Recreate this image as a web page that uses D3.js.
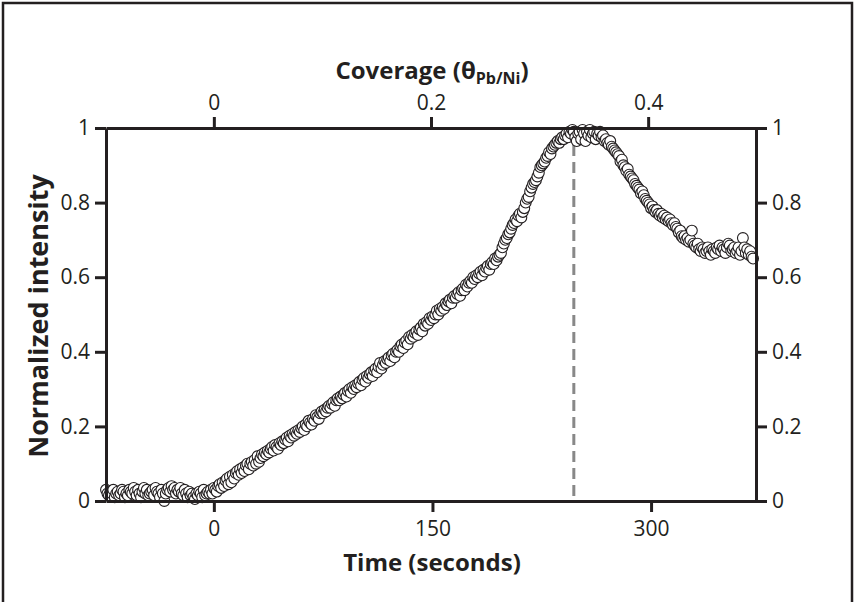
<!DOCTYPE html>
<html>
<head>
<meta charset="utf-8">
<script src="https://d3js.org/d3.v7.min.js"></script>
<style>
  body { margin: 0; background: #fff; }
  text { font-family: "Open Sans", "Noto Sans", sans-serif; fill: #231f20; }
</style>
</head>
<body>
<svg id="chart" width="855" height="602"></svg>
<script>
// time (s) and normalized intensity
const times = [
  -74,-73,-72,-71,-70,-69,-68,-67,-66,-65,
  -64,-63,-62,-61,-60,-59,-58,-57,-56,-55,
  -54,-53,-52,-51,-50,-49,-48,-47,-46,-45,
  -44,-43,-42,-41,-40,-39,-38,-37,-36,-35,
  -34,-33,-32,-31,-30,-29,-28,-27,-26,-25,
  -24,-23,-22,-21,-20,-19,-18,-17,-16,-15,
  -14,-13,-12,-11,-10,-9,-8,-7,-6,-5,
  -4,-3,-2,-1,0,1,2,3,4,5,
  6,7,8,9,10,11,12,13,14,15,
  16,17,18,19,20,21,22,23,24,25,
  26,27,28,29,30,31,32,33,34,35,
  36,37,38,39,40,41,42,43,44,45,
  46,47,48,49,50,51,52,53,54,55,
  56,57,58,59,60,61,62,63,64,65,
  66,67,68,69,70,71,72,73,74,75,
  76,77,78,79,80,81,82,83,84,85,
  86,87,88,89,90,91,92,93,94,95,
  96,97,98,99,100,101,102,103,104,105,
  106,107,108,109,110,111,112,113,114,115,
  116,117,118,119,120,121,122,123,124,125,
  126,127,128,129,130,131,132,133,134,135,
  136,137,138,139,140,141,142,143,144,145,
  146,147,148,149,150,151,152,153,154,155,
  156,157,158,159,160,161,162,163,164,165,
  166,167,168,169,170,171,172,173,174,175,
  176,177,178,179,180,181,182,183,184,185,
  186,187,188,189,190,191,192,193,194,195,
  196,197,198,199,200,201,202,203,204,205,
  206,207,208,209,210,211,212,213,214,215,
  216,217,218,219,220,221,222,223,224,225,
  226,227,228,229,230,231,232,233,234,235,
  236,237,238,239,240,241,242,243,244,245,
  246,247,248,249,250,251,252,253,254,255,
  256,257,258,259,260,261,262,263,264,265,
  266,267,268,269,270,271,272,273,274,275,
  276,277,278,279,280,281,282,283,284,285,
  286,287,288,289,290,291,292,293,294,295,
  296,297,298,299,300,301,302,303,304,305,
  306,307,308,309,310,311,312,313,314,315,
  316,317,318,319,320,321,322,323,324,325,
  326,327,328,329,330,331,332,333,334,335,
  336,337,338,339,340,341,342,343,344,345,
  346,347,348,349,350,351,352,353,354,355,
  356,357,358,359,360,361,362,363,364,365,
  366,367,368,369,370
];
const intensity = [
  .03,.02,.015,.025,.02,.03,.01,.02,.025,.015,
  .02,.03,.025,.01,.02,.015,.03,.025,.02,.035,
  .025,.015,.03,.02,.01,.025,.035,.02,.03,.015,
  .02,.025,.03,.015,.035,.025,.02,.01,.03,.02,
  .0,.02,.03,.035,.025,.04,.03,.035,.02,.03,
  .025,.035,.02,.015,.03,.02,.01,.025,.015,.02,
  .01,.005,.02,.015,.025,.02,.01,.03,.015,.02,
  .025,.02,.03,.02,.035,.03,.025,.04,.045,.035,
  .05,.04,.055,.06,.045,.065,.05,.07,.06,.075,
  .08,.07,.085,.075,.09,.08,.095,.1,.085,.1,
  .105,.095,.11,.1,.12,.105,.115,.125,.12,.13,
  .125,.135,.13,.14,.145,.135,.15,.145,.14,.155,
  .15,.16,.155,.165,.17,.16,.175,.17,.18,.175,
  .185,.18,.19,.185,.195,.2,.19,.205,.2,.215,
  .21,.205,.22,.215,.23,.225,.22,.235,.24,.235,
  .245,.24,.25,.255,.25,.26,.265,.255,.27,.275,
  .27,.28,.275,.285,.29,.28,.295,.3,.29,.305,
  .3,.31,.305,.315,.32,.31,.325,.33,.32,.335,
  .33,.34,.345,.335,.35,.355,.345,.36,.37,.355,
  .365,.375,.37,.38,.385,.375,.39,.395,.385,.4,
  .405,.4,.415,.42,.41,.425,.43,.42,.44,.435,
  .445,.44,.45,.455,.445,.46,.465,.455,.475,.47,
  .48,.475,.49,.485,.495,.49,.5,.51,.5,.515,
  .51,.52,.515,.53,.525,.535,.54,.53,.545,.55,
  .545,.555,.56,.55,.565,.57,.565,.58,.575,.585,
  .59,.585,.6,.595,.605,.6,.61,.615,.605,.62,
  .615,.625,.63,.62,.635,.64,.635,.65,.645,.655,
  .66,.665,.68,.69,.7,.705,.715,.72,.73,.74,
  .745,.755,.75,.765,.77,.76,.775,.785,.8,.81,
  .815,.83,.84,.85,.855,.86,.87,.88,.895,.9,
  .905,.91,.92,.925,.935,.93,.945,.95,.955,.96,
  .965,.96,.97,.975,.97,.98,.985,.975,.99,.985,
  .995,.99,.975,.965,.985,.99,.97,.995,.985,.965,
  .99,.98,.995,.975,.985,.99,.97,.985,.98,.99,
  .975,.98,.965,.97,.96,.955,.965,.95,.945,.94,
  .935,.93,.925,.91,.915,.9,.895,.885,.89,.875,
  .87,.865,.86,.85,.845,.84,.835,.825,.83,.82,
  .81,.805,.8,.795,.785,.79,.78,.775,.78,.77,
  .765,.77,.76,.765,.755,.76,.75,.755,.745,.74,
  .745,.735,.73,.72,.725,.71,.705,.71,.7,.705,
  .695,.7,.725,.69,.685,.68,.69,.675,.67,.68,
  .675,.665,.67,.68,.67,.66,.675,.67,.665,.68,
  .675,.685,.67,.68,.675,.665,.68,.69,.685,.67,
  .675,.68,.665,.67,.68,.66,.67,.705,.68,.665,
  .675,.66,.67,.655,.65
];
const timeTicks = [0, 150, 300];
const coverageTicks = [0, 0.2, 0.4];
const intensityTicks = [0, 0.2, 0.4, 0.6, 0.8, 1];
const peakTime = 247;          // dashed marker
const secondsPerCoverage = 745; // coverage = time / 745

const svg = d3.select("#chart");
const ink = "#231f20";

// outer frame
svg.append("rect")
  .attr("x", 3).attr("y", 3).attr("width", 849).attr("height", 640)
  .attr("fill", "none").attr("stroke", ink).attr("stroke-width", 2.5);

const xs = d3.scaleLinear().domain([-74, 372]).range([106, 756]);
const ys = d3.scaleLinear().domain([0, 1]).range([501, 128]);
const xc = d3.scaleLinear()
  .domain(xs.domain().map(t => t / secondsPerCoverage))
  .range(xs.range());

// dashed line at the peak
svg.append("line")
  .attr("x1", xs(peakTime)).attr("x2", xs(peakTime))
  .attr("y1", ys(1)).attr("y2", ys(0))
  .attr("stroke", "#888").attr("stroke-width", 3)
  .attr("stroke-dasharray", "11,6");

// data points
svg.append("g")
  .selectAll("circle")
  .data(d3.zip(times, intensity))
  .enter()
  .append("circle")
  .attr("cx", d => xs(d[0]))
  .attr("cy", d => ys(d[1]))
  .attr("r", 5.4)
  .attr("fill", "#fff")
  .attr("stroke", ink)
  .attr("stroke-width", 1.1);

function styleAxis(g) {
  g.selectAll("path").attr("stroke", ink).attr("stroke-width", 3);
  g.selectAll("line").attr("stroke", ink).attr("stroke-width", 3);
  g.selectAll("text").attr("font-size", 21).attr("fill", ink)
    .attr("font-family", "'Open Sans', 'Noto Sans', sans-serif");
}

svg.append("g")
  .attr("transform", "translate(0," + ys(0) + ")")
  .call(d3.axisBottom(xs).tickValues(timeTicks).tickSize(11).tickSizeOuter(0).tickPadding(9))
  .call(styleAxis);

svg.append("g")
  .attr("transform", "translate(0," + ys(1) + ")")
  .call(d3.axisTop(xc).tickValues(coverageTicks).tickSize(11).tickSizeOuter(0).tickPadding(7)
    .tickFormat(d => d === 0 ? "0" : d3.format(".1f")(d)))
  .call(styleAxis);

svg.append("g")
  .attr("transform", "translate(" + xs.range()[0] + ",0)")
  .call(d3.axisLeft(ys).tickValues(intensityTicks).tickSize(11).tickSizeOuter(0).tickPadding(5)
    .tickFormat(d3.format("~g")))
  .call(styleAxis);

svg.append("g")
  .attr("transform", "translate(" + xs.range()[1] + ",0)")
  .call(d3.axisRight(ys).tickValues(intensityTicks).tickSize(11).tickSizeOuter(0).tickPadding(5)
    .tickFormat(d3.format("~g")))
  .call(styleAxis);

// axis titles
svg.append("text")
  .attr("x", 432).attr("y", 571)
  .attr("text-anchor", "middle")
  .attr("font-size", 24).attr("font-weight", "bold")
  .text("Time (seconds)");

svg.append("text")
  .attr("transform", "translate(48,316) rotate(-90)")
  .attr("text-anchor", "middle")
  .attr("font-size", 27).attr("font-weight", "bold")
  .text("Normalized intensity");

const coverTitle = svg.append("text")
  .attr("x", 432).attr("y", 79)
  .attr("text-anchor", "middle")
  .attr("font-size", 24).attr("font-weight", "bold");
coverTitle.append("tspan").text("Coverage (θ");
coverTitle.append("tspan").attr("font-size", 16).attr("dy", 5).text("Pb/Ni");
coverTitle.append("tspan").attr("dy", -5).text(")");
</script>
</body>
</html>
